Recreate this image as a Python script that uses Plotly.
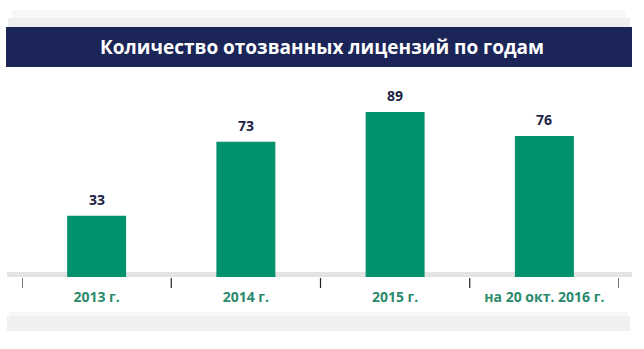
import plotly.graph_objects as go

categories = ["2013 г.", "2014 г.", "2015 г.", "на 20 окт. 2016 г."]
values = [33, 73, 89, 76]
title_text = "Количество отозванных лицензий по годам"

W, H = 644, 349
L, R, T, B = 22, 25, 80, 72
PH = H - T - B
PW = W - L - R

def py(pix):  # pixel y -> paper y
    return (H - B - pix) / PH

def px(pix):  # pixel x -> paper x
    return (pix - L) / PW

fig = go.Figure()
fig.add_trace(go.Bar(
    x=categories, y=values,
    marker=dict(color="#00916d", line=dict(width=0)),
    hoverinfo="skip",
))

annotations = []
for c, v in zip(categories, values):
    annotations.append(dict(
        x=c, y=v, xref="x", yref="y", text=f"<b>{v}</b>", showarrow=False,
        yanchor="bottom", yshift=5,
        font=dict(family="Open Sans", size=14, color="#1c1f45"),
    ))
annotations.append(dict(
    x=px(322), y=py(47), xref="paper", yref="paper", text=f"<b>{title_text}</b>",
    showarrow=False, xanchor="center", yanchor="middle",
    font=dict(family="Open Sans", size=19, color="#ffffff"),
))

shapes = []
# top shadow
shapes.append(dict(type="rect", xref="paper", yref="paper", x0=px(8), x1=px(630),
                   y0=py(27), y1=py(18), fillcolor="#efefef", line=dict(width=0), layer="below"))
shapes.append(dict(type="rect", xref="paper", yref="paper", x0=px(12), x1=px(626),
                   y0=py(18), y1=py(10), fillcolor="#f7f7f7", line=dict(width=0), layer="below"))
# title band
shapes.append(dict(type="rect", xref="paper", yref="paper", x0=px(6), x1=px(632),
                   y0=py(67), y1=py(27), fillcolor="#1b2558", line=dict(width=0), layer="below"))
# gray axis band
shapes.append(dict(type="rect", xref="paper", yref="paper", x0=px(7), x1=px(632),
                   y0=py(277), y1=py(272), fillcolor="#e3e3e3", line=dict(width=0), layer="below"))
# bottom shadow
shapes.append(dict(type="rect", xref="paper", yref="paper", x0=px(7), x1=px(630),
                   y0=py(331), y1=py(316), fillcolor="#f0f0f0", line=dict(width=0), layer="below"))
shapes.append(dict(type="rect", xref="paper", yref="paper", x0=px(9), x1=px(628),
                   y0=py(316), y1=py(312), fillcolor="#f7f7f7", line=dict(width=0), layer="below"))
# category boundary ticks
for i in range(len(categories) + 1):
    shapes.append(dict(type="line", xref="x", yref="paper", x0=i - 0.5, x1=i - 0.5,
                       y0=py(278), y1=py(288), line=dict(color="#222222", width=1.2)))

fig.update_layout(
    width=W, height=H,
    margin=dict(l=L, r=R, t=T, b=B),
    paper_bgcolor="#ffffff", plot_bgcolor="rgba(0,0,0,0)",
    showlegend=False,
    bargap=0.605,
    xaxis=dict(
        type="category", range=[-0.5, len(categories) - 0.5],
        showgrid=False, zeroline=False, showline=False, ticks="",
        tickfont=dict(family="Open Sans", size=14, color="#2b8a6c", weight="bold"),
        ticklabelstandoff=10,
        fixedrange=True,
    ),
    yaxis=dict(range=[0, PH / 1.854], visible=False, fixedrange=True),
    shapes=shapes,
    annotations=annotations,
)

fig.write_html("out.html")
